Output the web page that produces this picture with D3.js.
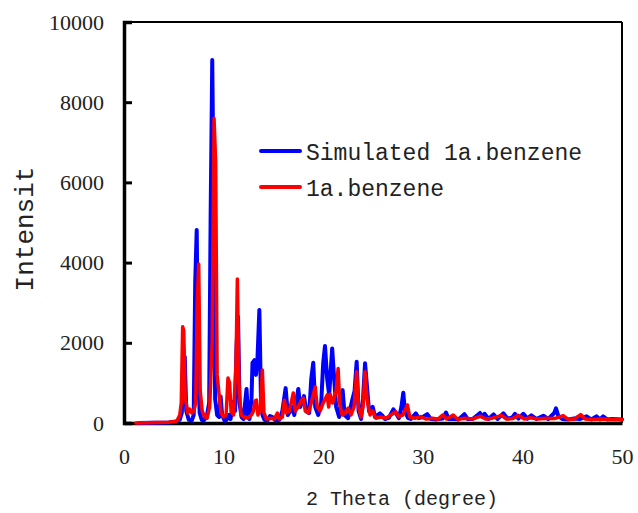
<!DOCTYPE html>
<html>
<head>
<meta charset="utf-8">
<script src="https://cdn.jsdelivr.net/npm/d3@7"></script>
<style>
  body { margin: 0; background: #fff; }
  .tick text { font-family: "Liberation Serif", serif; font-size: 22px; fill: #222; }
  .mono { font-family: "Liberation Mono", monospace; fill: #222; }
</style>
</head>
<body>
<svg id="chart" width="638" height="513"></svg>
<script>
// 2 theta (degree) vs intensity
var simulated = [
  [1.5,0],[4.5,10],[5.2,30],[5.6,80],[5.8,250],[5.95,1100],[6.1,1650],[6.25,300],[6.5,80],[6.8,60],
  [7.0,200],[7.15,3500],[7.3,4810],[7.45,1200],[7.6,250],[7.8,80],[8.0,60],[8.3,150],[8.55,500],[8.7,5200],
  [8.86,9050],[9.0,5500],[9.15,600],[9.35,200],[9.55,150],[9.7,660],[9.85,200],[10.1,60],[10.3,80],[10.5,200],
  [10.7,100],[10.97,530],[11.15,300],[11.3,1900],[11.45,2650],[11.6,500],[11.8,150],[12.0,100],[12.3,850],[12.45,200],
  [12.6,100],[12.8,600],[12.9,1500],[13.1,1570],[13.25,1200],[13.4,1600],[13.59,2820],[13.75,600],[13.9,200],[14.1,80],
  [14.4,60],[14.66,175],[14.9,150],[15.2,60],[15.6,80],[15.9,300],[16.23,870],[16.45,200],[16.7,300],[16.9,400],
  [17.1,200],[17.5,850],[17.7,400],[18.07,670],[18.3,300],[18.6,250],[18.8,1100],[19.0,1500],[19.2,400],[19.5,200],
  [19.8,500],[20.0,1500],[20.18,1920],[20.4,1100],[20.6,700],[20.9,1860],[21.05,1300],[21.3,400],[21.6,150],[21.95,820],
  [22.15,200],[22.5,120],[22.96,620],[23.15,800],[23.36,1530],[23.55,300],[23.8,100],[24.0,600],[24.2,1490],[24.4,900],
  [24.6,300],[24.97,400],[25.2,150],[25.7,240],[25.95,180],[26.2,100],[26.6,130],[27.04,340],[27.3,250],[27.6,120],
  [27.85,400],[28.04,755],[28.2,300],[28.5,130],[28.8,100],[29.3,240],[29.6,120],[30.0,150],[30.45,220],[30.8,100],
  [31.4,90],[32.0,110],[32.33,260],[32.6,100],[33.2,100],[33.6,90],[34.17,220],[34.5,100],[35.0,100],[35.5,200],
  [35.74,250],[36.0,150],[36.2,230],[36.6,100],[37.1,215],[37.5,100],[38.08,240],[38.5,110],[39.0,140],[39.26,230],
  [39.6,110],[40.1,230],[40.5,110],[40.9,190],[41.4,100],[42.1,180],[42.6,100],[43.2,250],[43.37,365],[43.6,180],
  [44.0,100],[44.6,90],[45.2,110],[45.8,100],[46.45,165],[46.9,90],[47.46,165],[47.8,90],[48.1,165],[48.5,90],
  [49.0,100],[50.0,90]
];

var measured = [
  [1.2,0],[4.5,20],[5.3,50],[5.6,200],[5.75,500],[5.89,2400],[6.0,2300],[6.15,600],[6.25,500],[6.4,250],
  [6.6,350],[6.8,250],[7.0,300],[7.2,500],[7.35,3000],[7.5,3965],[7.65,800],[7.85,300],[8.1,150],[8.35,120],
  [8.6,400],[8.85,2000],[9.04,7600],[9.2,6500],[9.35,1200],[9.55,700],[9.75,250],[10.0,150],[10.25,200],[10.44,1120],
  [10.6,1000],[10.75,300],[11.0,200],[11.25,1500],[11.38,3590],[11.55,900],[11.75,200],[12.0,150],[12.4,120],[12.8,200],
  [13.0,300],[13.15,550],[13.3,570],[13.45,200],[13.7,350],[13.89,1320],[14.05,250],[14.3,100],[14.8,120],[15.1,100],
  [15.4,250],[15.6,100],[15.9,150],[16.1,570],[16.3,250],[16.6,300],[17.0,750],[17.2,300],[17.5,400],[17.8,570],
  [18.0,620],[18.2,300],[18.5,250],[18.8,500],[19.0,700],[19.2,900],[19.4,400],[19.7,300],[20.0,500],[20.4,700],
  [20.55,400],[20.7,720],[20.95,500],[21.3,800],[21.5,1360],[21.65,500],[21.9,200],[22.2,250],[22.5,370],[22.8,200],
  [23.1,400],[23.36,1280],[23.55,400],[23.8,150],[24.0,400],[24.2,1280],[24.4,600],[24.7,200],[24.97,300],[25.3,120],
  [25.8,150],[26.3,120],[26.8,200],[27.3,280],[27.6,150],[28.0,200],[28.45,450],[28.7,150],[29.2,120],[29.8,160],
  [30.3,100],[31.0,120],[31.5,90],[32.0,200],[32.4,100],[33.06,200],[33.5,90],[34.2,120],[35.0,100],[35.8,170],
  [36.3,100],[37.0,120],[37.9,190],[38.4,100],[39.0,110],[39.6,190],[40.2,100],[40.8,130],[41.5,100],[42.4,120],
  [43.2,110],[44.1,180],[44.6,90],[45.2,100],[45.85,210],[46.3,100],[47.0,90],[48.0,100],[49.0,90],[50.0,90]
];

var xTicks = [0, 10, 20, 30, 40, 50];
var yTicks = [0, 2000, 4000, 6000, 8000, 10000];
var seriesNames = ["Simulated 1a.benzene", "1a.benzene"];
var seriesColors = ["#0000ff", "#ff0000"];

// plot box
var margin = {top: 22, right: 16, bottom: 90, left: 124},
  width = 638 - margin.left - margin.right,
  height = 513 - margin.top - margin.bottom;

var svg = d3.select("#chart")
  .append("g")
    .attr("transform", "translate(" + margin.left + "," + margin.top + ")");

var x = d3.scaleLinear().domain([0, 50]).range([0, width]);
var y = d3.scaleLinear().domain([0, 10000]).range([height, 0]);

var line = d3.line()
  .x(function(d) { return x(d[0]); })
  .y(function(d) { return y(d[1]); });

// frame (top and right thinner)
svg.append("line").attr("x1", 0).attr("x2", width).attr("y1", 0).attr("y2", 0)
  .attr("stroke", "#000").attr("stroke-width", 2);
svg.append("line").attr("x1", width).attr("x2", width).attr("y1", 0).attr("y2", height)
  .attr("stroke", "#000").attr("stroke-width", 2);

// y axis, ticks pointing inward
var yAxis = svg.append("g")
  .call(d3.axisLeft(y).tickValues(yTicks).tickSize(-8).tickPadding(20).tickFormat(d3.format("d")));
yAxis.select(".domain").attr("stroke-width", 3.5);
yAxis.selectAll(".tick line").attr("stroke-width", 3);

// x axis, no tick marks
var xAxis = svg.append("g")
  .attr("transform", "translate(0," + height + ")")
  .call(d3.axisBottom(x).tickValues(xTicks).tickSize(0).tickPadding(25));
xAxis.select(".domain").attr("stroke-width", 3.5);

// data lines
svg.append("path")
  .datum(simulated)
  .attr("d", line)
  .attr("fill", "none")
  .attr("stroke", seriesColors[0])
  .attr("stroke-width", 4)
  .attr("stroke-linejoin", "round")
  .attr("stroke-linecap", "round");

svg.append("path")
  .datum(measured)
  .attr("d", line)
  .attr("fill", "none")
  .attr("stroke", seriesColors[1])
  .attr("stroke-width", 3.5)
  .attr("stroke-linejoin", "round")
  .attr("stroke-linecap", "round");

// legend
var legend = svg.append("g").attr("transform", "translate(137,129)");
seriesNames.forEach(function(name, i) {
  legend.append("line")
    .attr("x1", 0).attr("x2", 39)
    .attr("y1", i * 36).attr("y2", i * 36)
    .attr("stroke", seriesColors[i])
    .attr("stroke-width", 4)
    .attr("stroke-linecap", "round");
  legend.append("text")
    .attr("class", "mono")
    .attr("x", 45)
    .attr("y", i * 36 + 9)
    .style("font-size", "23px")
    .text(name);
});

// axis titles
svg.append("text")
  .attr("class", "mono")
  .attr("x", 278)
  .attr("y", height + 82)
  .style("text-anchor", "middle")
  .style("font-size", "20px")
  .text("2 Theta (degree)");

svg.append("text")
  .attr("class", "mono")
  .attr("transform", "rotate(-90)")
  .attr("x", -207)
  .attr("y", -91)
  .style("text-anchor", "middle")
  .style("font-size", "26px")
  .text("Intensit");
</script>
</body>
</html>
